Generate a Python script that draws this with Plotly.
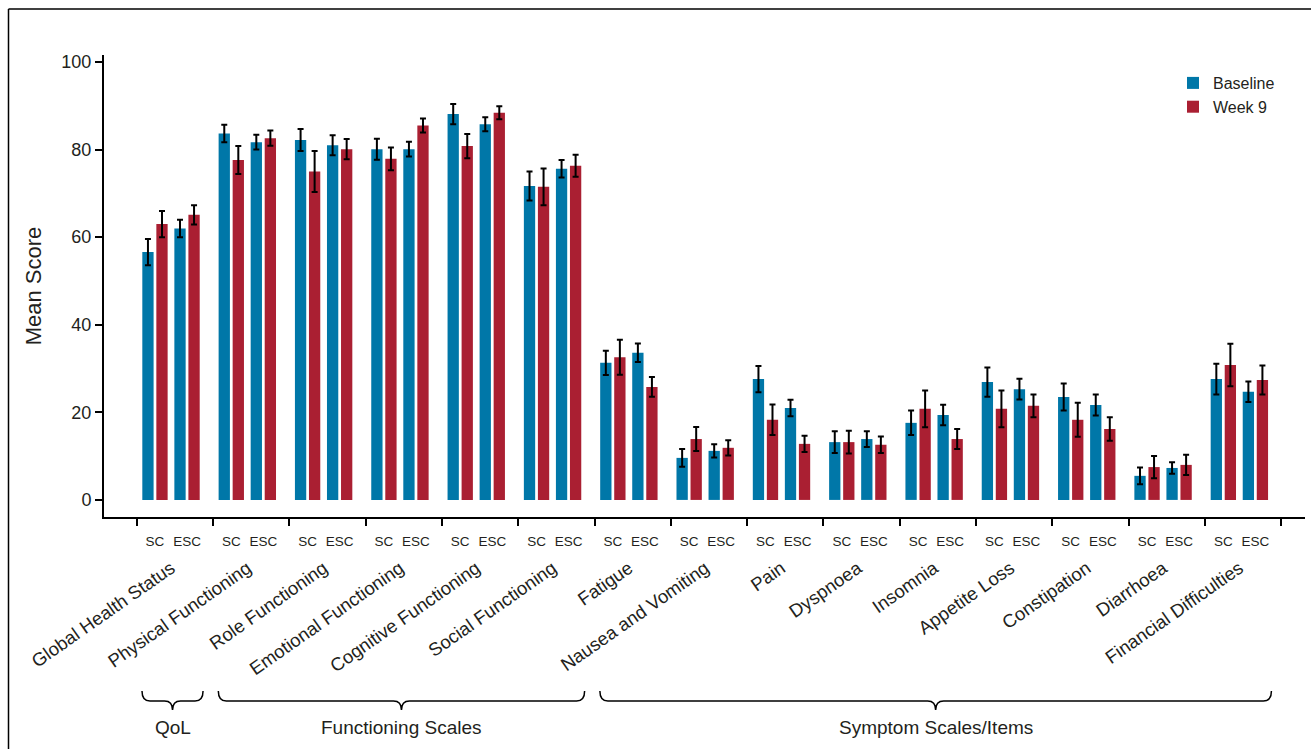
import plotly.graph_objects as go

# ---------------- data ----------------
categories = ["Global Health Status", "Physical Functioning", "Role Functioning",
              "Emotional Functioning", "Cognitive Functioning", "Social Functioning",
              "Fatigue", "Nausea and Vomiting", "Pain", "Dyspnoea", "Insomnia",
              "Appetite Loss", "Constipation", "Diarrhoea", "Financial Difficulties"]
subgroups = ["SC", "ESC"]
series_names = ["Baseline", "Week 9"]

sc_baseline = [56.6, 83.7, 82.2, 80.1, 88.1, 71.7, 31.3, 9.6, 27.6, 13.2, 17.6, 26.9, 23.5, 5.5, 27.6]
sc_baseline_err = [3.0, 2.0, 2.5, 2.4, 2.3, 3.3, 2.75, 2.0, 3.0, 2.5, 2.8, 3.35, 3.1, 1.9, 3.5]
sc_week9 = [63.0, 77.6, 75.0, 77.9, 80.8, 71.5, 32.6, 13.9, 18.3, 13.2, 20.8, 20.8, 18.3, 7.5, 30.8]
sc_week9_err = [3.0, 3.2, 4.7, 2.6, 2.75, 4.2, 4.0, 2.75, 3.5, 2.6, 4.2, 4.2, 3.9, 2.55, 4.85]
esc_baseline = [62.0, 81.7, 81.0, 80.1, 85.8, 75.6, 33.6, 11.2, 21.0, 13.9, 19.4, 25.3, 21.7, 7.3, 24.7]
esc_baseline_err = [2.0, 1.7, 2.3, 1.7, 1.6, 2.0, 2.1, 1.5, 1.9, 1.8, 2.35, 2.35, 2.4, 1.3, 2.35]
esc_week9 = [65.1, 82.6, 80.1, 85.5, 88.4, 76.3, 25.8, 11.9, 12.8, 12.6, 13.9, 21.5, 16.2, 8.0, 27.4]
esc_week9_err = [2.2, 1.75, 2.3, 1.6, 1.5, 2.5, 2.25, 1.75, 1.85, 1.9, 2.3, 2.6, 2.7, 2.3, 3.3]

section_names = ["QoL", "Functioning Scales", "Symptom Scales/Items"]
section_first = [0, 1, 6]
section_last = [0, 5, 14]

y_ticks = [0, 20, 40, 60, 80, 100]

# ---------------- layout helpers ----------------
W, H = 1311, 749
ML, MR, MT, MB = 104, 6, 55, 232
PW, PH = W - ML - MR, H - MT - MB

def px_x(px):
    return (px - ML) / PW

def px_y(py):
    return (H - MB - py) / PH

BLUE = "#0077A8"
RED = "#AA1F32"
TXT = "#231F20"
FONT = "Liberation Sans, Arial, sans-serif"

n = len(categories)
sub_off = 0.21
bar_off = 0.092
bar_w = 0.148

x_sc = [i - sub_off for i in range(n)]
x_esc = [i + sub_off for i in range(n)]

fig = go.Figure()
err_style = dict(type="data", color="black", thickness=2, width=3, visible=True)

fig.add_trace(go.Bar(
    name=series_names[0],
    x=[v - bar_off for v in x_sc] + [v - bar_off for v in x_esc],
    y=sc_baseline + esc_baseline,
    width=bar_w, marker=dict(color=BLUE, line=dict(width=0)),
    error_y=dict(array=sc_baseline_err + esc_baseline_err, **err_style),
))
fig.add_trace(go.Bar(
    name=series_names[1],
    x=[v + bar_off for v in x_sc] + [v + bar_off for v in x_esc],
    y=sc_week9 + esc_week9,
    width=bar_w, marker=dict(color=RED, line=dict(width=0)),
    error_y=dict(array=sc_week9_err + esc_week9_err, **err_style),
))

xrange = [-0.878, 14.86]

fig.update_layout(
    width=W, height=H,
    margin=dict(l=ML, r=MR, t=MT, b=MB, pad=0),
    paper_bgcolor="white", plot_bgcolor="white",
    barmode="overlay",
    font=dict(family=FONT, color=TXT),
    showlegend=True,
    legend=dict(x=px_x(1173), y=px_y(66), xanchor="left", yanchor="top",
                font=dict(size=16, color=TXT), bgcolor="rgba(0,0,0,0)",
                itemclick=False),
    xaxis=dict(
        range=xrange, showgrid=False, zeroline=False,
        showline=True, linecolor="black", linewidth=2,
        tickmode="array",
        tickvals=x_sc + x_esc,
        ticktext=[subgroups[0]] * n + [subgroups[1]] * n,
        ticks="", tickfont=dict(size=13.5, color=TXT),
        ticklabelstandoff=11,
        minor=dict(tickmode="array", tickvals=[i - 0.45 for i in range(n + 1)],
                   ticks="outside", ticklen=7, tickwidth=1.5, tickcolor="black",
                   showgrid=False),
    ),
    xaxis2=dict(
        range=xrange, overlaying="x", side="bottom", anchor="y",
        showgrid=False, zeroline=False, showline=False,
        tickmode="array", tickvals=list(range(n)), ticktext=categories,
        ticks="", tickangle=-35, tickfont=dict(size=18.5, color=TXT),
        ticklabelstandoff=36,
    ),
    yaxis=dict(
        range=[-3.9, 101.6], showgrid=False, zeroline=False,
        showline=True, linecolor="black", linewidth=2,
        tickmode="array", tickvals=y_ticks,
        ticks="outside", ticklen=7, tickwidth=1.5, tickcolor="black",
        tickfont=dict(size=18, color=TXT),
        title=dict(text="Mean Score", font=dict(size=22, color=TXT), standoff=14),
    ),
)

# dummy trace to activate xaxis2
fig.add_trace(go.Scatter(x=[0], y=[None], xaxis="x2", showlegend=False,
                         hoverinfo="skip", mode="markers"))

# border lines (top and left)
fig.add_shape(type="line", xref="paper", yref="paper",
              x0=px_x(8.5), x1=px_x(W + 5), y0=px_y(9), y1=px_y(9),
              line=dict(color="black", width=1.5))
fig.add_shape(type="line", xref="paper", yref="paper",
              x0=px_x(8.5), x1=px_x(8.5), y0=px_y(9), y1=px_y(H + 5),
              line=dict(color="black", width=1.5))

# curly brackets
y_top, y_line, y_tip = px_y(691), px_y(701), px_y(710)
r = 8 / (PW / (xrange[1] - xrange[0]))
for name, a, b in zip(section_names, section_first, section_last):
    x0 = a - 0.38
    x1 = b + 0.42
    xm = (x0 + x1) / 2
    path = (f"M {x0},{y_top} Q {x0},{y_line} {x0 + r},{y_line} "
            f"L {xm - r},{y_line} Q {xm},{y_line} {xm},{y_tip} "
            f"M {xm},{y_tip} Q {xm},{y_line} {xm + r},{y_line} "
            f"L {x1 - r},{y_line} Q {x1},{y_line} {x1},{y_top}")
    fig.add_shape(type="path", xref="x", yref="paper", path=path,
                  line=dict(color="black", width=1.5))
    fig.add_annotation(x=xm, y=px_y(727), xref="x", yref="paper", text=name,
                       showarrow=False, font=dict(size=19, color=TXT),
                       xanchor="center", yanchor="middle")

fig.write_html("out.html")
